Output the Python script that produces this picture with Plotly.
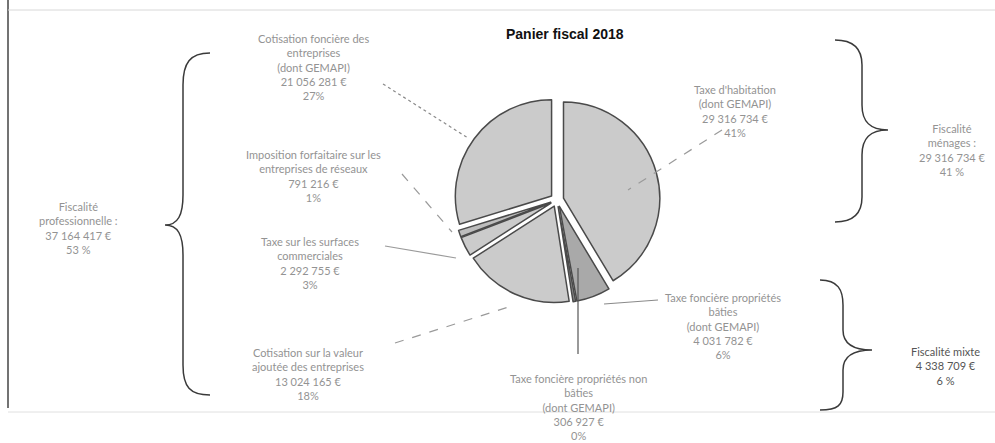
import plotly.graph_objects as go

# Slices, clockwise from 12 o'clock
slice_names = [
    "Taxe d'habitation",
    "Taxe foncière propriétés bâties",
    "Taxe foncière propriétés non bâties",
    "Cotisation sur la valeur ajoutée des entreprises",
    "Taxe sur les surfaces commerciales",
    "Imposition forfaitaire sur les entreprises de réseaux",
    "Cotisation foncière des entreprises",
]
slice_values = [29316734, 4031782, 306927, 13024165, 2292755, 791216, 21056281]
slice_pcts = ["41%", "6%", "0%", "18%", "3%", "1%", "27%"]
slice_lines = [
    ["Taxe d'habitation", "(dont GEMAPI)"],
    ["Taxe foncière propriétés", "bâties", "(dont GEMAPI)"],
    ["Taxe foncière propriétés non", "bâties", "(dont GEMAPI)"],
    ["Cotisation sur la valeur", "ajoutée des entreprises"],
    ["Taxe sur les surfaces", "commerciales"],
    ["Imposition forfaitaire sur les", "entreprises de réseaux"],
    ["Cotisation foncière des", "entreprises", "(dont GEMAPI)"],
]
slice_colors = ["#cbcbcb", "#a9a9a9", "#8c8c8c", "#cbcbcb", "#cbcbcb", "#bdbdbd", "#cbcbcb"]

# Groups of taxes
group_names = [["Fiscalité", "professionnelle :"], ["Fiscalité", "ménages :"], ["Fiscalité mixte"]]
group_members = [[3, 4, 5, 6], [0], [1, 2]]
group_pcts = ["53 %", "41 %", "6 %"]

title = "Panier fiscal 2018"


def euros(v):
    return f"{v:,}".replace(",", " ") + " €"


W, H = 995, 443
fig = go.Figure()

fig.add_trace(go.Pie(
    values=slice_values,
    labels=slice_names,
    sort=False,
    direction="clockwise",
    rotation=0,
    pull=[0.07] * len(slice_values),
    marker=dict(colors=slice_colors, line=dict(color="#4a4a4a", width=1.5)),
    textinfo="none",
    hoverinfo="label+value",
    showlegend=False,
    domain=dict(x=[446 / W, 668 / W], y=[1 - 303 / H, 1 - 97 / H]),
))

# Invisible pixel-based axes for labels, leaders and braces
fig.update_xaxes(range=[0, W], visible=False, fixedrange=True)
fig.update_yaxes(range=[H, 0], visible=False, fixedrange=True)
fig.add_trace(go.Scatter(x=[0, W], y=[0, H], mode="markers",
                         marker=dict(opacity=0), hoverinfo="skip", showlegend=False))

label_font = dict(family="Lato, Open Sans, sans-serif", size=11, color="#939393")

# Slice label positions (centre of each text block)
slice_label_pos = [(735, 111), (723, 326), (578, 407), (308, 374), (310, 263), (313, 176), (313, 67)]
for i, (x, y) in enumerate(slice_label_pos):
    txt = "<br>".join(slice_lines[i] + [euros(slice_values[i]), slice_pcts[i]])
    fig.add_annotation(x=x, y=y, text=txt, showarrow=False, xref="x", yref="y",
                       font=label_font, align="center", xanchor="center", yanchor="middle")

group_label_pos = [(78, 228), (952, 150), (945, 366)]
for g, (x, y) in enumerate(group_label_pos):
    total = sum(slice_values[i] for i in group_members[g])
    txt = "<br>".join(group_names[g] + [euros(total), group_pcts[g]])
    f = dict(label_font)
    if g == 2:
        f["color"] = "#555555"
    fig.add_annotation(x=x, y=y, text=txt, showarrow=False, xref="x", yref="y",
                       font=f, align="center", xanchor="center", yanchor="middle")

# Leader lines from labels to slices
leaders = [
    ((722, 130), (628, 190), "dash", "#9a9a9a"),
    ((658, 300), (604, 304), "solid", "#8a8a8a"),
    ((578, 354), (578, 268), "solid", "#555555"),
    ((395, 343), (515, 305), "dash", "#9a9a9a"),
    ((385, 246), (456, 258), "solid", "#9a9a9a"),
    ((402, 174), (452, 232), "dash", "#9a9a9a"),
    ((383, 84), (468, 138), "dot", "#8a8a8a"),
]
for (x0, y0), (x1, y1), dash, col in leaders:
    fig.add_shape(type="line", x0=x0, y0=y0, x1=x1, y1=y1, xref="x", yref="y",
                  line=dict(color=col, width=1.2, dash=dash))

# Curly braces
braces = [
    "M 210,53 C 190,53 183,63 183,85 L 183,195 C 183,215 178,225 165,225 "
    "C 178,225 183,235 183,255 L 183,365 C 183,387 190,395 210,395",
    "M 835,40 C 855,40 862,50 862,65 L 862,105 C 862,122 870,130 888,130 "
    "C 870,130 862,138 862,155 L 862,197 C 862,212 855,222 835,222",
    "M 820,280 C 838,280 843,290 843,305 L 843,330 C 843,343 852,350 872,350 "
    "C 852,350 843,357 843,370 L 843,392 C 843,405 838,410 820,410",
]
for p in braces:
    fig.add_shape(type="path", path=p, xref="x", yref="y",
                  line=dict(color="#3a3a3a", width=1.5))

# Frame
fig.add_shape(type="line", x0=8, y0=0, x1=8, y1=408, xref="x", yref="y",
              line=dict(color="#444444", width=1.5))
fig.add_shape(type="line", x0=8, y0=10, x1=W, y1=10, xref="x", yref="y",
              line=dict(color="#d8d8d8", width=1))
fig.add_shape(type="line", x0=8, y0=412, x1=W, y1=412, xref="x", yref="y",
              line=dict(color="#e0e0e0", width=1))

fig.add_annotation(x=565, y=34, text="<b>" + title + "</b>", showarrow=False,
                   xref="x", yref="y", font=dict(family="Liberation Sans, Arial", size=14, color="#111111"))

fig.update_layout(
    width=W, height=H,
    margin=dict(l=0, r=0, t=0, b=0),
    paper_bgcolor="white", plot_bgcolor="white",
    xaxis=dict(domain=[0, 1]), yaxis=dict(domain=[0, 1]),
)

fig.write_html("out.html")
